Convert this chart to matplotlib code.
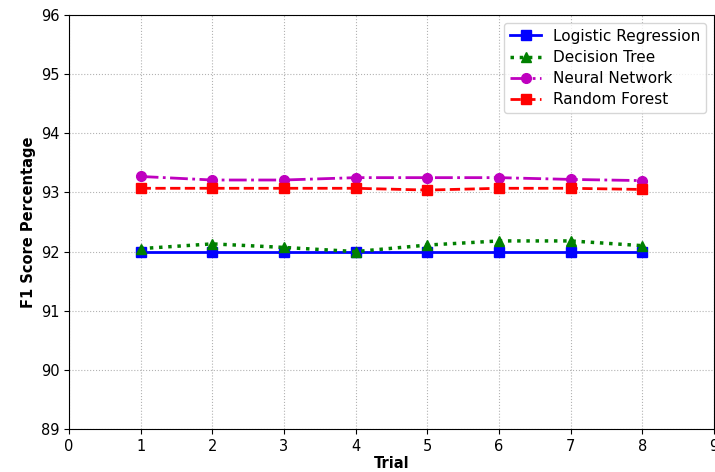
import numpy as np
import matplotlib.pyplot as plt

trials = [1, 2, 3, 4, 5, 6, 7, 8]
logistic = [92.0, 92.0, 92.0, 92.0, 92.0, 92.0, 92.0, 92.0]
tree = [92.05, 92.13, 92.07, 92.0, 92.11, 92.18, 92.18, 92.1]
neural = [93.27, 93.21, 93.21, 93.25, 93.25, 93.25, 93.22, 93.2]
forest = [93.07, 93.07, 93.07, 93.07, 93.04, 93.07, 93.07, 93.05]

fig = plt.figure(figsize=(7.15, 4.72), dpi=100)
ax = fig.add_axes([69/715, 1-429/472, 645/715, 414/472])

ax.plot(trials, logistic, 'b-s', lw=2, ms=7, label='Logistic Regression')
ax.plot(trials, tree, 'g:^', lw=2.5, ms=7, label='Decision Tree')
ax.plot(trials, neural, 'm-.o', lw=2, ms=7, label='Neural Network')
ax.plot(trials, forest, 'r--s', lw=2, ms=7, label='Random Forest')

ax.set_xlim(0, 9)
ax.set_ylim(89, 96)
ax.set_xticks(range(0, 10))
ax.grid(True, linestyle=':', color='gray', alpha=0.6)
ax.set_xlabel('Trial', fontweight='bold', fontsize=10.5, labelpad=2)
ax.set_ylabel('F1 Score Percentage', fontweight='bold', fontsize=10.5, labelpad=3)
ax.tick_params(labelsize=10.5)
ax.legend(loc='upper right', fontsize=11, labelspacing=0.4)

fig.savefig('out.png', dpi=100)
